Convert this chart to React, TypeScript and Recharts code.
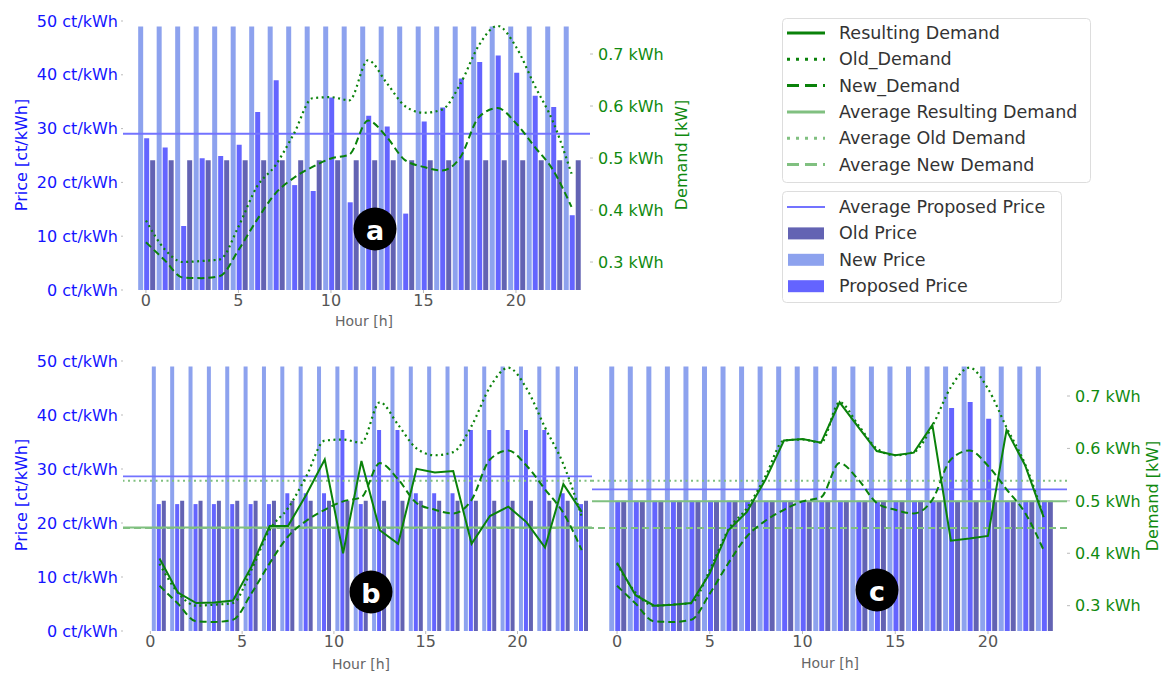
import React from 'react'
import { ComposedChart, Bar, Line, XAxis, YAxis, ReferenceLine } from 'recharts'

const FONT = '"DejaVu Sans", Verdana, sans-serif'

const HOURS = [0, 1, 2, 3, 4, 5, 6, 7, 8, 9, 10, 11, 12, 13, 14, 15, 16, 17, 18, 19, 20, 21, 22, 23]
const X_TICKS = [0, 5, 10, 15, 20]
const PRICE_TICKS = [0, 10, 20, 30, 40, 50]
const DEMAND_TICKS = [0.3, 0.4, 0.5, 0.6, 0.7]

// prices in ct/kWh
const NEW_PRICE = [49, 49, 49, 49, 49, 49, 49, 49, 49, 49, 49, 49, 49, 49, 49, 49, 49, 49, 49, 49, 49, 49, 49, 49]
const OLD_PRICE = [24.1, 24.1, 24.1, 24.1, 24.1, 24.1, 24.1, 24.1, 24.1, 24.1, 24.1, 24.1, 24.1, 24.1, 24.1, 24.1, 24.1, 24.1, 24.1, 24.1, 24.1, 24.1, 24.1, 24.1]
const PROPOSED_A = [28.2, 26.5, 11.9, 24.5, 24.9, 27.0, 33.1, 39.0, 19.5, 18.4, 35.8, 16.3, 32.4, 30.4, 14.2, 31.3, 33.9, 39.3, 42.4, 43.6, 40.4, 36.1, 34.0, 13.9]
const PROPOSED_B = [23.5, 23.5, 23.5, 23.5, 23.5, 23.5, 23.5, 25.5, 25.5, 25.5, 37.2, 23.5, 37.2, 37.2, 25.5, 25.5, 25.5, 37.2, 37.2, 37.2, 37.2, 37.2, 25.5, 23.5]
const PROPOSED_C = [24.1, 24.1, 24.1, 24.1, 24.1, 24.1, 24.1, 24.1, 24.1, 24.1, 24.1, 24.1, 24.1, 24.1, 24.1, 24.1, 24.1, 24.1, 41.3, 42.4, 39.3, 24.1, 24.1, 24.1]

// demand in kWh
const OLD_DEMAND = [0.38, 0.325, 0.3, 0.302, 0.305, 0.368, 0.445, 0.486, 0.547, 0.615, 0.617, 0.611, 0.688, 0.645, 0.6, 0.587, 0.593, 0.643, 0.717, 0.754, 0.714, 0.64, 0.57, 0.47]
const NEW_DEMAND = [0.338, 0.304, 0.27, 0.269, 0.273, 0.323, 0.381, 0.432, 0.462, 0.483, 0.499, 0.507, 0.572, 0.541, 0.496, 0.483, 0.476, 0.502, 0.579, 0.596, 0.567, 0.522, 0.477, 0.406]
const RESULT_B = [0.39, 0.325, 0.305, 0.306, 0.31, 0.374, 0.452, 0.452, 0.512, 0.579, 0.4, 0.576, 0.444, 0.418, 0.561, 0.554, 0.557, 0.418, 0.471, 0.489, 0.459, 0.411, 0.532, 0.479]
const RESULT_C = [0.382, 0.32, 0.3, 0.302, 0.305, 0.362, 0.444, 0.479, 0.54, 0.615, 0.618, 0.611, 0.688, 0.641, 0.595, 0.587, 0.592, 0.645, 0.424, 0.428, 0.433, 0.635, 0.568, 0.469]

const LEGEND_DEMAND = ['Resulting Demand', 'Old_Demand', 'New_Demand', 'Average Resulting Demand', 'Average Old Demand', 'Average New Demand']
const LEGEND_PRICE = ['Average Proposed Price', 'Old Price', 'New Price', 'Proposed Price']

const C_NEW = '#8da2ee'
const C_PROPOSED = '#6464ff'
const C_OLD = '#6363b3'
const C_AVG_PRICE = '#7373ff'
const GREEN = '#0a820a'
const GREEN_SOFT = '#80c080'
const DOT = '2 3.5'
const DASH = '7 4'

const mean = (a: number[]) => a.reduce((s, v) => s + v, 0) / a.length

const buildRows = (proposed: number[], result: number[] | null, shift: number) =>
  HOURS.map((h, i) => ({
    x: h + shift,
    newPrice: NEW_PRICE[i],
    proposed: proposed[i],
    oldPrice: OLD_PRICE[i],
    oldDemand: OLD_DEMAND[i],
    newDemand: NEW_DEMAND[i],
    result: result ? result[i] : null,
  }))

type PanelProps = {
  rows: ReturnType<typeof buildRows>
  left: number
  top: number
  width: number
  margin: { top: number; right: number; bottom: number; left: number }
  xDomain: [number, number]
  demandDomain: [number, number]
  priceAxis: boolean
  demandAxis: boolean
  avgPrice: number
  avgResult?: number
  showResult: boolean
}

const Panel = (p: PanelProps) => (
  <div style={{ position: 'absolute', left: p.left, top: p.top }}>
    <ComposedChart
      width={p.width}
      height={340}
      data={p.rows}
      margin={p.margin}
      barGap={1}
      barCategoryGap="8%"
    >
      <XAxis
        type="number"
        dataKey="x"
        domain={p.xDomain}
        allowDataOverflow
        ticks={X_TICKS}
        height={40}
        axisLine={false}
        tickLine={{ stroke: '#bbb' }}
        tickSize={3}
        tickMargin={2}
        tick={{ fill: '#555', fontSize: 16, fontFamily: FONT }}
      />
      <YAxis
        yAxisId="price"
        domain={[0, 50]}
        allowDataOverflow
        ticks={PRICE_TICKS}
        hide={!p.priceAxis}
        width={p.margin.left === 0 ? 123 : 0}
        axisLine={false}
        tickLine={{ stroke: '#bbb' }}
        tickSize={2}
        tickMargin={3}
        tickFormatter={(v) => `${v} ct/kWh`}
        tick={{ fill: '#1414ff', fontSize: 16, fontFamily: FONT }}
      />
      <YAxis
        yAxisId="demand"
        orientation="right"
        domain={p.demandDomain}
        allowDataOverflow
        ticks={DEMAND_TICKS}
        hide={!p.demandAxis}
        width={p.margin.right === 0 ? (p.left === 0 ? 110 : 95) : 0}
        axisLine={false}
        tickLine={{ stroke: '#bbb' }}
        tickSize={3}
        tickMargin={5}
        tickFormatter={(v) => `${v} kWh`}
        tick={{ fill: '#108a10', fontSize: 16, fontFamily: FONT }}
      />
      <Bar yAxisId="price" dataKey="newPrice" fill={C_NEW} isAnimationActive={false} />
      <Bar yAxisId="price" dataKey="proposed" fill={C_PROPOSED} isAnimationActive={false} />
      <Bar yAxisId="price" dataKey="oldPrice" fill={C_OLD} isAnimationActive={false} />
      <ReferenceLine yAxisId="price" y={p.avgPrice} stroke={C_AVG_PRICE} strokeWidth={1.8} />
      {p.avgResult !== undefined && (
        <ReferenceLine yAxisId="demand" y={mean(OLD_DEMAND)} stroke={GREEN_SOFT} strokeWidth={2} strokeDasharray={DOT} />
      )}
      {p.avgResult !== undefined && (
        <ReferenceLine yAxisId="demand" y={p.avgResult} stroke={GREEN_SOFT} strokeWidth={2} />
      )}
      {p.avgResult !== undefined && (
        <ReferenceLine yAxisId="demand" y={mean(NEW_DEMAND)} stroke={GREEN_SOFT} strokeWidth={2} strokeDasharray={DASH} />
      )}
      <Line
        yAxisId="demand"
        dataKey="oldDemand"
        type="monotone"
        stroke={GREEN}
        strokeWidth={2.2}
        strokeDasharray={DOT}
        dot={false}
        isAnimationActive={false}
      />
      <Line
        yAxisId="demand"
        dataKey="newDemand"
        type="monotone"
        stroke={GREEN}
        strokeWidth={2}
        strokeDasharray={DASH}
        dot={false}
        isAnimationActive={false}
      />
      {p.showResult && (
        <Line
          yAxisId="demand"
          dataKey="result"
          type="linear"
          stroke={GREEN}
          strokeWidth={2}
          dot={false}
          isAnimationActive={false}
        />
      )}
    </ComposedChart>
  </div>
)

const demandHandles = [
  { stroke: GREEN, dash: undefined },
  { stroke: GREEN, dash: '3 6' },
  { stroke: GREEN, dash: '12 6' },
  { stroke: GREEN_SOFT, dash: undefined },
  { stroke: GREEN_SOFT, dash: '3 6' },
  { stroke: GREEN_SOFT, dash: '12 6' },
]
const priceFills = [null, C_OLD, C_NEW, C_PROPOSED]

const Badge = ({ x, y, t }: { x: number; y: number; t: string }) => (
  <g>
    <circle cx={x} cy={y} r={21.5} fill="#000" />
    <text
      x={x}
      y={y + 1}
      fill="#fff"
      fontSize={27}
      fontWeight="bold"
      textAnchor="middle"
      dominantBaseline="central"
    >
      {t}
    </text>
  </g>
)

const Overlay = () => (
  <svg
    width={1162}
    height={673}
    style={{ position: 'absolute', left: 0, top: 0, pointerEvents: 'none', fontFamily: FONT }}
  >
    <text x={21} y={155} transform="rotate(-90 21 155)" fill="#1414ff" fontSize={16} textAnchor="middle" dominantBaseline="central">
      Price [ct/kWh]
    </text>
    <text x={21} y={495} transform="rotate(-90 21 495)" fill="#1414ff" fontSize={16} textAnchor="middle" dominantBaseline="central">
      Price [ct/kWh]
    </text>
    <text x={681} y={155} transform="rotate(-90 681 155)" fill="#108a10" fontSize={16} textAnchor="middle" dominantBaseline="central">
      Demand [kW]
    </text>
    <text x={1152} y={496} transform="rotate(-90 1152 496)" fill="#108a10" fontSize={16} textAnchor="middle" dominantBaseline="central">
      Demand [kW]
    </text>
    <text x={364} y={321} fill="#666" fontSize={14} textAnchor="middle" dominantBaseline="central">Hour [h]</text>
    <text x={361} y={664} fill="#666" fontSize={14} textAnchor="middle" dominantBaseline="central">Hour [h]</text>
    <text x={830} y={663} fill="#666" fontSize={14} textAnchor="middle" dominantBaseline="central">Hour [h]</text>

    <Badge x={375} y={229} t="a" />
    <Badge x={371} y={592} t="b" />
    <Badge x={877} y={590} t="c" />

    <rect x={782.5} y={18.5} width={308} height={164} rx={4} fill="#fff" fillOpacity={0.8} stroke="#ddd" />
    {LEGEND_DEMAND.map((label, i) => {
      const y = 33 + i * 26.3
      const h = demandHandles[i]
      return (
        <g key={label}>
          <line x1={787} x2={825} y1={y} y2={y} stroke={h.stroke} strokeWidth={3} strokeDasharray={h.dash} />
          <text x={839} y={y} fill="#333" fontSize={17.5} dominantBaseline="central">{label}</text>
        </g>
      )
    })}
    <rect x={782.5} y={191.5} width={279} height={111} rx={4} fill="#fff" fillOpacity={0.8} stroke="#ddd" />
    {LEGEND_PRICE.map((label, i) => {
      const y = 207 + i * 26.4
      const fill = priceFills[i]
      return (
        <g key={label}>
          {fill ? (
            <rect x={788} y={y - 6} width={36} height={12} fill={fill} />
          ) : (
            <line x1={787} x2={825} y1={y} y2={y} stroke={C_AVG_PRICE} strokeWidth={2} />
          )}
          <text x={839} y={y} fill="#333" fontSize={17.5} dominantBaseline="central">{label}</text>
        </g>
      )
    })}
  </svg>
)

const App = () => {
  const rowsA = buildRows(PROPOSED_A, null, 0)
  const rowsB = buildRows(PROPOSED_B, RESULT_B, 0.5)
  const rowsC = buildRows(PROPOSED_C, RESULT_C, 0)
  return (
    <div style={{ position: 'absolute', left: 0, top: 0, width: 1162, height: 673, background: '#fff', fontFamily: FONT }}>
      <Panel
        rows={rowsA}
        left={0}
        top={0}
        width={700}
        margin={{ top: 21, right: 0, bottom: 10, left: 0 }}
        xDomain={[-1.24, 24]}
        demandDomain={[0.2462, 0.7635]}
        priceAxis
        demandAxis
        avgPrice={mean(PROPOSED_A)}
        showResult={false}
      />
      <Panel
        rows={rowsB}
        left={0}
        top={340}
        width={700}
        margin={{ top: 21, right: 108, bottom: 9, left: 0 }}
        xDomain={[-1.49, 24.06]}
        demandDomain={[0.2517, 0.7668]}
        priceAxis
        demandAxis={false}
        avgPrice={mean(PROPOSED_B)}
        avgResult={mean(RESULT_B)}
        showResult
      />
      <Panel
        rows={rowsC}
        left={560}
        top={340}
        width={602}
        margin={{ top: 21, right: 0, bottom: 9, left: 32 }}
        xDomain={[-1.35, 24.26]}
        demandDomain={[0.2517, 0.7668]}
        priceAxis={false}
        demandAxis
        avgPrice={mean(PROPOSED_C)}
        avgResult={mean(RESULT_C)}
        showResult
      />
      <Overlay />
    </div>
  )
}

export default App
